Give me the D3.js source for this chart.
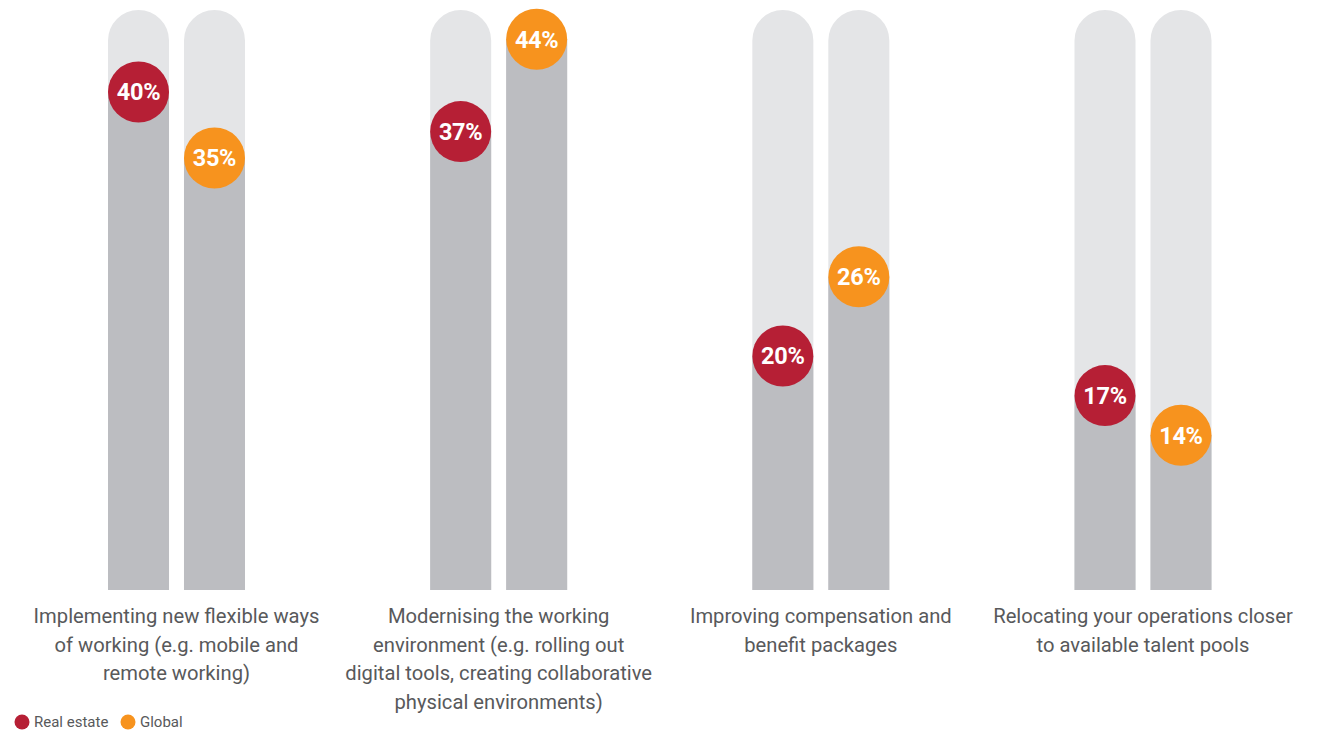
<!DOCTYPE html>
<html lang="en">
<head>
    <meta charset="UTF-8">
    <title>Workforce actions</title>
    <style>
        body {
            margin: 0;
            background: #fff;
            font-family: "Roboto", Arial, sans-serif;
        }
    </style>
</head>
<body>
    <div id="chart"></div>

    <script src="https://d3js.org/d3.v7.min.js"></script>
    <script>
        const categories = ["flexible", "modernising", "compensation", "relocating"];
        const categoryLines = [
            ["Implementing new flexible ways", "of working (e.g. mobile and", "remote working)"],
            ["Modernising the working", "environment (e.g. rolling out", "digital tools, creating collaborative", "physical environments)"],
            ["Improving compensation and", "benefit packages"],
            ["Relocating your operations closer", "to available talent pools"]
        ];
        const seriesNames = ["Real estate", "Global"];
        const realEstate = [40, 37, 20, 17];
        const globalValues = [35, 44, 26, 14];
        const seriesColors = ["#b61f35", "#f7931e"];

        const width = 1320, height = 731;
        const trackTop = 10, trackBottom = 590;

        const svg = d3.select("#chart")
            .append("svg")
            .attr("width", width)
            .attr("height", height);

        // Scales
        const xGroup = d3.scalePoint().domain(categories).range([176.5, 1143]);
        const xSeries = d3.scaleBand().domain(seriesNames).range([-68.5, 68.5]).paddingInner(0.197).paddingOuter(0);
        const y = d3.scaleLinear().domain([0, 40]).range([620, 92]);
        const bw = xSeries.bandwidth();
        const r = bw / 2;

        const rows = [];
        categories.forEach((c, i) => {
            rows.push({ cat: c, series: seriesNames[0], value: realEstate[i], color: seriesColors[0] });
            rows.push({ cat: c, series: seriesNames[1], value: globalValues[i], color: seriesColors[1] });
        });

        const bars = svg.selectAll(".bar")
            .data(rows)
            .enter()
            .append("g")
            .attr("class", "bar")
            .attr("transform", d => `translate(${xGroup(d.cat) + xSeries(d.series)},0)`);

        // Background track with rounded top
        bars.append("path")
            .attr("d", () => {
                const p = d3.path();
                p.moveTo(0, trackBottom);
                p.lineTo(0, trackTop + r);
                p.arc(r, trackTop + r, r, Math.PI, 0);
                p.lineTo(bw, trackBottom);
                p.closePath();
                return p.toString();
            })
            .attr("fill", "#e4e5e7");

        // Value fill
        bars.append("rect")
            .attr("x", 0)
            .attr("y", d => y(d.value))
            .attr("width", bw)
            .attr("height", d => trackBottom - y(d.value))
            .attr("fill", "#bcbdc1");

        bars.append("circle")
            .attr("cx", r)
            .attr("cy", d => y(d.value))
            .attr("r", r)
            .attr("fill", d => d.color);

        bars.append("text")
            .attr("x", r)
            .attr("y", d => y(d.value))
            .attr("dy", "0.36em")
            .attr("text-anchor", "middle")
            .attr("fill", "#fff")
            .attr("font-weight", "bold")
            .attr("font-size", 23.5)
            .attr("letter-spacing", -0.3)
            .text(d => d.value + "%");

        // Category labels
        const labels = svg.selectAll(".cat-label")
            .data(categories)
            .enter()
            .append("text")
            .attr("class", "cat-label")
            .attr("text-anchor", "middle")
            .attr("fill", "#58595b")
            .attr("font-size", 20.2);

        labels.selectAll("tspan")
            .data((d, i) => categoryLines[i].map(line => ({ line, x: xGroup(d) })))
            .enter()
            .append("tspan")
            .attr("x", d => d.x)
            .attr("y", (d, j) => 623 + j * 28.7)
            .text(d => d.line);

        // Legend
        const legend = svg.append("g").attr("transform", "translate(22,722)");
        const legendX = [0, 106];
        seriesNames.forEach((name, i) => {
            legend.append("circle")
                .attr("cx", legendX[i])
                .attr("cy", 0)
                .attr("r", 7.5)
                .attr("fill", seriesColors[i]);
            legend.append("text")
                .attr("x", legendX[i] + 12)
                .attr("y", 0)
                .attr("dy", "0.35em")
                .attr("fill", "#58595b")
                .attr("font-size", 15)
                .text(name);
        });
    </script>
</body>
</html>
